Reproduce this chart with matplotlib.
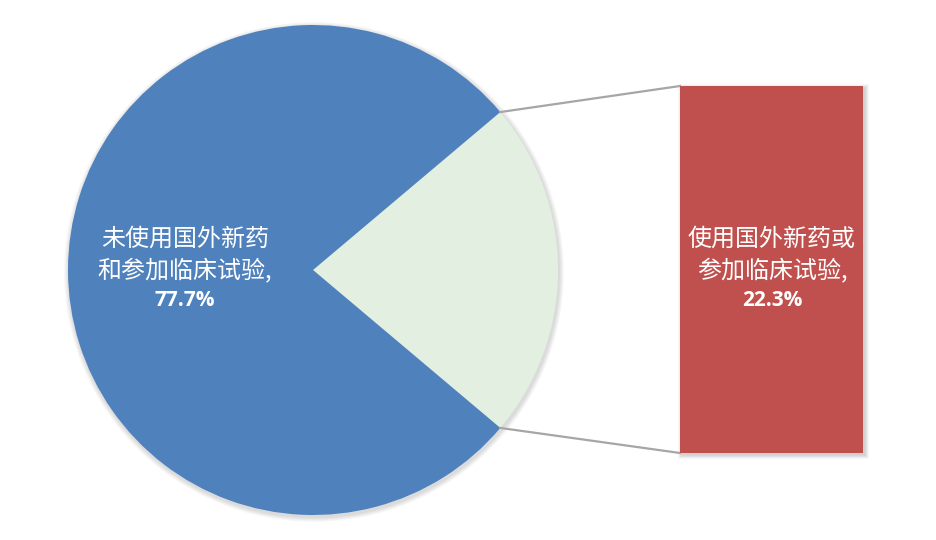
import matplotlib.pyplot as plt
import numpy as np
from matplotlib.patches import Rectangle

plt.rcParams['font.family'] = ['Noto Sans CJK SC', 'DejaVu Sans']

# data
labels = ['使用国外新药或\n参加临床试验,', '未使用国外新药\n和参加临床试验,']
values = [22.3, 77.7]
colors = ['#E3F0E1', '#4F81BD']
bar_color = '#C0504D'

W, H = 936, 540
fig = plt.figure(figsize=(W / 100, H / 100), dpi=100)
ax = fig.add_axes([0, 0, 1, 1])
ax.set_xlim(0, W)
ax.set_ylim(0, H)
ax.set_aspect('equal')
ax.axis('off')

# pie
cx, cy, r = 313, 270, 245
half = values[0] * 3.6 / 2
# soft shadow under pie
for k in range(6):
    ax.add_patch(plt.Circle((cx + 1, cy - 2), r + 1 + k * 0.8, color='#000000',
                            alpha=0.025, lw=0, zorder=0))
ax.pie(values, colors=colors, startangle=-half, counterclock=True,
       center=(cx, cy), radius=r, frame=True,
       wedgeprops=dict(linewidth=0))
ax.set_xlim(0, W)
ax.set_ylim(0, H)
ax.axis('off')

# bar of the small slice
bx0, bx1 = 680, 863
by_top, by_bot = H - 86, H - 453
for k in range(6):
    ax.add_patch(Rectangle((bx0 - k * 0.8 + 2, by_bot - k * 0.8 - 2),
                           (bx1 - bx0) + k * 1.6, (by_top - by_bot) + k * 1.6,
                           color='#000000', alpha=0.03, lw=0, zorder=1))
ax.bar((bx0 + bx1) / 2, by_top - by_bot, bottom=by_bot, width=bx1 - bx0,
       color=bar_color, zorder=2)

# connector lines
a = np.radians(half)
px, py = cx + r * np.cos(a), cy + r * np.sin(a)
ax.plot([px, bx0], [py, by_top], color='#A6A6A6', lw=1.6, zorder=1)
ax.plot([px, bx0], [cy - (py - cy), by_bot], color='#A6A6A6', lw=1.6, zorder=1)

# labels
ax.text(185, H - 255, labels[1], ha='center', va='center', color='white',
        fontsize=17.3, linespacing=1.3, zorder=3)
ax.text(185, H - 301, f'{values[1]}%', ha='center', va='center', color='white',
        fontsize=15, fontweight='bold', family=['Open Sans', 'DejaVu Sans'], zorder=3)
ax.text(772, H - 255, labels[0], ha='center', va='center', color='white',
        fontsize=17.3, linespacing=1.3, zorder=3)
ax.text(772, H - 301, f'{values[0]}%', ha='center', va='center', color='white',
        fontsize=15, fontweight='bold', family=['Open Sans', 'DejaVu Sans'], zorder=3)

fig.savefig('out.png', dpi=100, facecolor='white')
